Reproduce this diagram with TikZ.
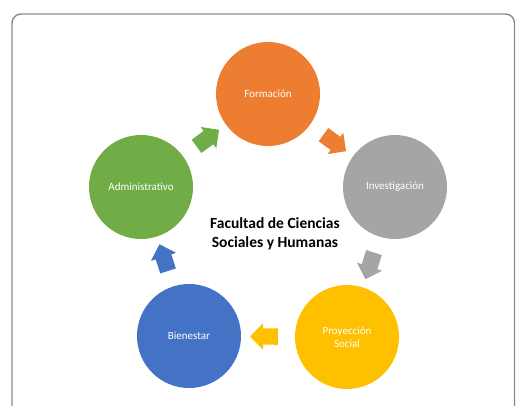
\documentclass[tikz,border=0pt]{standalone}
\usepackage{fontspec}
\setmainfont{Carlito}
\usetikzlibrary{shapes.arrows}

\definecolor{naranja}{HTML}{ED7D31}
\definecolor{gris}{HTML}{A5A5A5}
\definecolor{amarillo}{HTML}{FFC000}
\definecolor{azul}{HTML}{4472C4}
\definecolor{verde}{HTML}{70AD47}
\definecolor{marco}{HTML}{7D8D9B}

\tikzset{
  area/.style={circle,minimum size=104pt,inner sep=0pt,text=white,
    font=\fontsize{11}{13}\selectfont,align=center},
  flecha/.style={single arrow,minimum height=28pt,inner xsep=0pt,inner ysep=8pt,
    single arrow head extend=5pt,sloped,allow upside down}
}

\begin{document}
\begin{tikzpicture}[x=1pt,y=-1pt]
        \useasboundingbox (0,0) rectangle (516,405);
        % Marco
        \draw[marco,line width=1.4pt,rounded corners=9pt] (12,406) -- (12,14) -- (514.5,14) -- (514.5,406);

        % Areas
        \node[area,fill=naranja] (formacion) at (268,94) {Formación};
        \node[area,fill=gris] (investigacion) at (395,187) {Investigación};
        \node[area,fill=amarillo] (proyeccion) at (347,337) {Proyección\\Social};
        \node[area,fill=azul] (bienestar) at (189,336) {Bienestar};
        \node[area,fill=verde] (administrativo) at (141,187) {Administrativo};

        % Facultad
        \node[font=\bfseries\fontsize{15.5}{19}\selectfont,align=center] (facultad) at (275,234)
          {Facultad de Ciencias\\Sociales y Humanas};

        % Flechas del ciclo
        \path (formacion) -- (investigacion) node[midway,flecha,fill=naranja] (f1) {};
        \path (investigacion) -- (proyeccion) node[midway,flecha,fill=gris] (f2) {};
        \path (proyeccion) -- (bienestar) node[midway,flecha,fill=amarillo] (f3) {};
        \path (bienestar) -- (administrativo) node[midway,flecha,fill=azul] (f4) {};
        \path (administrativo) -- (formacion) node[midway,flecha,fill=verde] (f5) {};
    \end{tikzpicture}
\end{document}
